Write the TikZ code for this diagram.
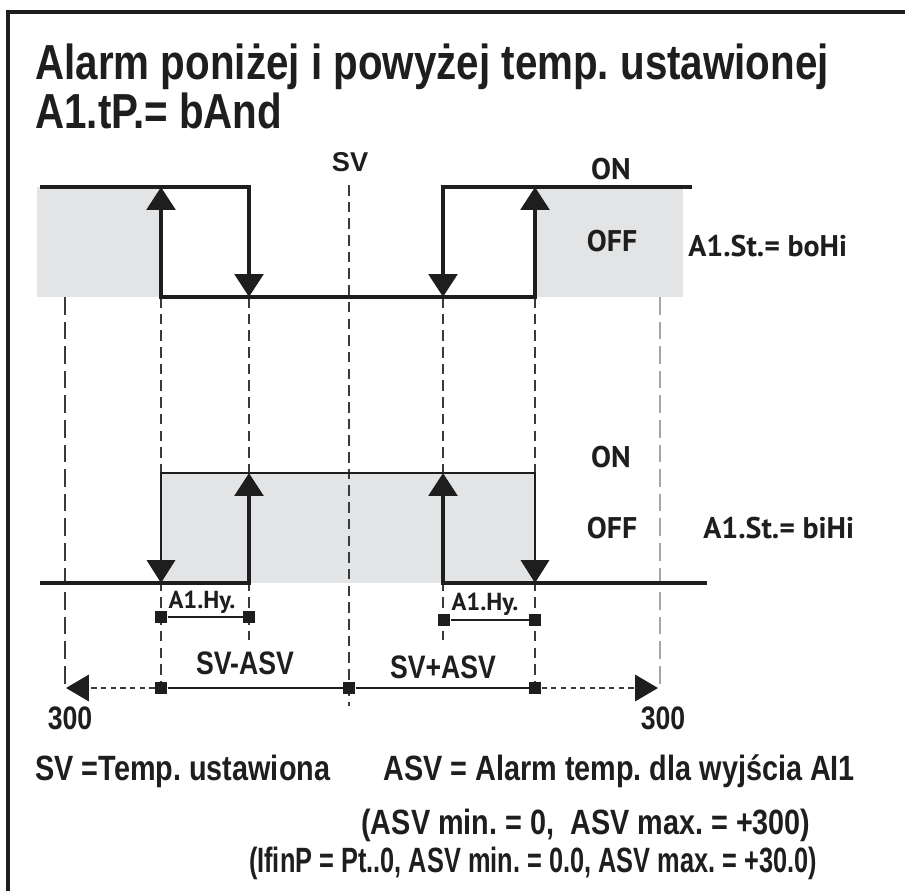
\documentclass[tikz,border=0pt]{standalone}
\usepackage{fontspec}
\setmainfont{Liberation Sans}
\newfontfamily\narrowfont[FakeStretch=0.82]{Liberation Sans}
\newfontfamily\labelfont{PT Sans}
\usetikzlibrary{arrows.meta}
\frenchspacing
\definecolor{offgray}{HTML}{E3E4E6}
\definecolor{inkblack}{HTML}{1E1E1E}
\definecolor{dashgray}{HTML}{3A3A3A}
\definecolor{lightdash}{HTML}{A6A6A6}

\tikzset{
  stepline/.style={inkblack, line width=2.8pt},
  thinstep/.style={inkblack, line width=1.6pt},
  switcharrow/.style={-{Triangle[width=16pt,length=13pt]}},
  guide/.style={dashgray, line width=0.9pt, dash pattern=on 6pt off 3.5pt},
  farguide/.style={dashgray, line width=1pt, dash pattern=on 10pt off 4pt},
  greyguide/.style={lightdash, line width=1.2pt, dash pattern=on 10pt off 4pt},
  rangeline/.style={dashgray, line width=1.1pt, dash pattern=on 3pt off 2.5pt,
    -{Triangle[width=15pt,length=13pt,color=inkblack]}},
  marker/.style={fill=inkblack, minimum size=7pt, inner sep=0pt},
  titletext/.style={anchor=base west, inner sep=0pt, text=inkblack,
    font=\narrowfont\bfseries\fontsize{28}{30}\selectfont},
  notetext/.style={anchor=base, inner sep=0pt, text=inkblack,
    font=\narrowfont\bfseries\fontsize{20}{22}\selectfont},
  axistext/.style={anchor=base, inner sep=0pt, text=inkblack,
    font=\narrowfont\bfseries\fontsize{18.5}{20}\selectfont},
  statetext/.style={anchor=base, inner sep=0pt, text=inkblack,
    font=\labelfont\bfseries\fontsize{17}{19}\selectfont},
  hytext/.style={anchor=base, inner sep=0pt, text=inkblack,
    font=\labelfont\bfseries\fontsize{14}{16}\selectfont},
}

\begin{document}
\begin{tikzpicture}[x=0.02cm, y=-0.02cm]
\useasboundingbox (0,0) rectangle (905,891);

% frame
\draw[inkblack, line width=2.3pt] (8,891) -- (8,12) -- (905,12);

% title
\node[titletext] (title1) at (35,80) {Alarm poniżej i powyżej temp. ustawionej};
\node[titletext] (title2) at (35,129) {A1.tP.= bAnd};

% shaded OFF zones
\fill[offgray] (37,187) rectangle (161,297);
\fill[offgray] (535,187) rectangle (683,297);
\fill[offgray] (161,473) rectangle (535,583);

% guide lines
\draw[farguide] (65,297) -- (65,688);
\draw[guide] (161,297) -- (161,688);
\draw[guide] (249,297) -- (249,640);
\draw[guide] (349,185) -- (349,706);
\draw[guide] (443,297) -- (443,640);
\draw[guide] (535,297) -- (535,688);
\draw[greyguide] (660,297) -- (660,688);

% boHi
\draw[stepline, switcharrow] (40,187) -- (249,187) -- (249,297);
\draw[stepline, switcharrow] (349,297) -- (161,297) -- (161,187);
\draw[stepline, switcharrow] (349,297) -- (535,297) -- (535,187);
\draw[stepline, switcharrow] (692,187) -- (443,187) -- (443,297);

% biHi
\draw[thinstep, switcharrow] (349,473) -- (161,473) -- (161,583);
\draw[thinstep, switcharrow] (349,473) -- (535,473) -- (535,583);
\draw[stepline, switcharrow] (40,583) -- (249,583) -- (249,473);
\draw[stepline, switcharrow] (707,583) -- (443,583) -- (443,473);

% labels of the two outputs
\node[statetext] (sv) at (350,172) {\normalfont\bfseries\fontsize{15.5}{17}\selectfont SV};
\node[statetext] (on1) at (611,180) {ON};
\node[statetext] (off1) at (612,252) {OFF};
\node[statetext, anchor=base west] (st1) at (688,257) {A1.St.= boHi};
\node[statetext] (on2) at (611,467) {ON};
\node[statetext] (off2) at (612,538) {OFF};
\node[statetext, anchor=base west] (st2) at (703,538) {A1.St.= biHi};

% hysteresis
\node[marker] (hyA) at (161,617) {};
\node[marker] (hyB) at (249,617) {};
\node[marker] (hyC) at (444,620) {};
\node[marker] (hyD) at (535,620) {};
\draw[inkblack, line width=0.8pt] (hyA) -- (hyB);
\draw[inkblack, line width=0.8pt] (hyC) -- (hyD);
\node[hytext] (hy1) at (202,608) {A1.Hy.};
\node[hytext] (hy2) at (485,610) {A1.Hy.};

% ASV range
\coordinate (lowend) at (66,688);
\coordinate (highend) at (658,688);
\node[marker] (lowasv) at (161,688) {};
\node[marker] (setp) at (349,688) {};
\node[marker] (highasv) at (535,688) {};
\draw[inkblack, line width=1.1pt] (lowasv) -- (setp) -- (highasv);
\draw[rangeline] (lowasv) -- (lowend);
\draw[rangeline] (highasv) -- (highend);
\node[axistext] (minus) at (245,674) {SV-ASV};
\node[axistext] (plus) at (443,678) {SV+ASV};
\node[axistext] (lowval) at (70,729) {300};
\node[axistext] (highval) at (663,729) {300};

% notes
\node[notetext, anchor=base west] (note1) at (35,780) {SV =Temp. ustawiona};
\node[notetext, anchor=base west] (note2) at (383,780) {ASV = Alarm temp. dla wyjścia AI1};
\node[notetext] (note3) at (586,834) {(ASV min. = 0,\ \ ASV max. = +300)};
\node[notetext] (note4) at (533,872) {\scalebox{0.88}[1]{(IfinP = Pt..0, ASV min. = 0.0, ASV max. = +30.0)}};
\end{tikzpicture}
\end{document}
